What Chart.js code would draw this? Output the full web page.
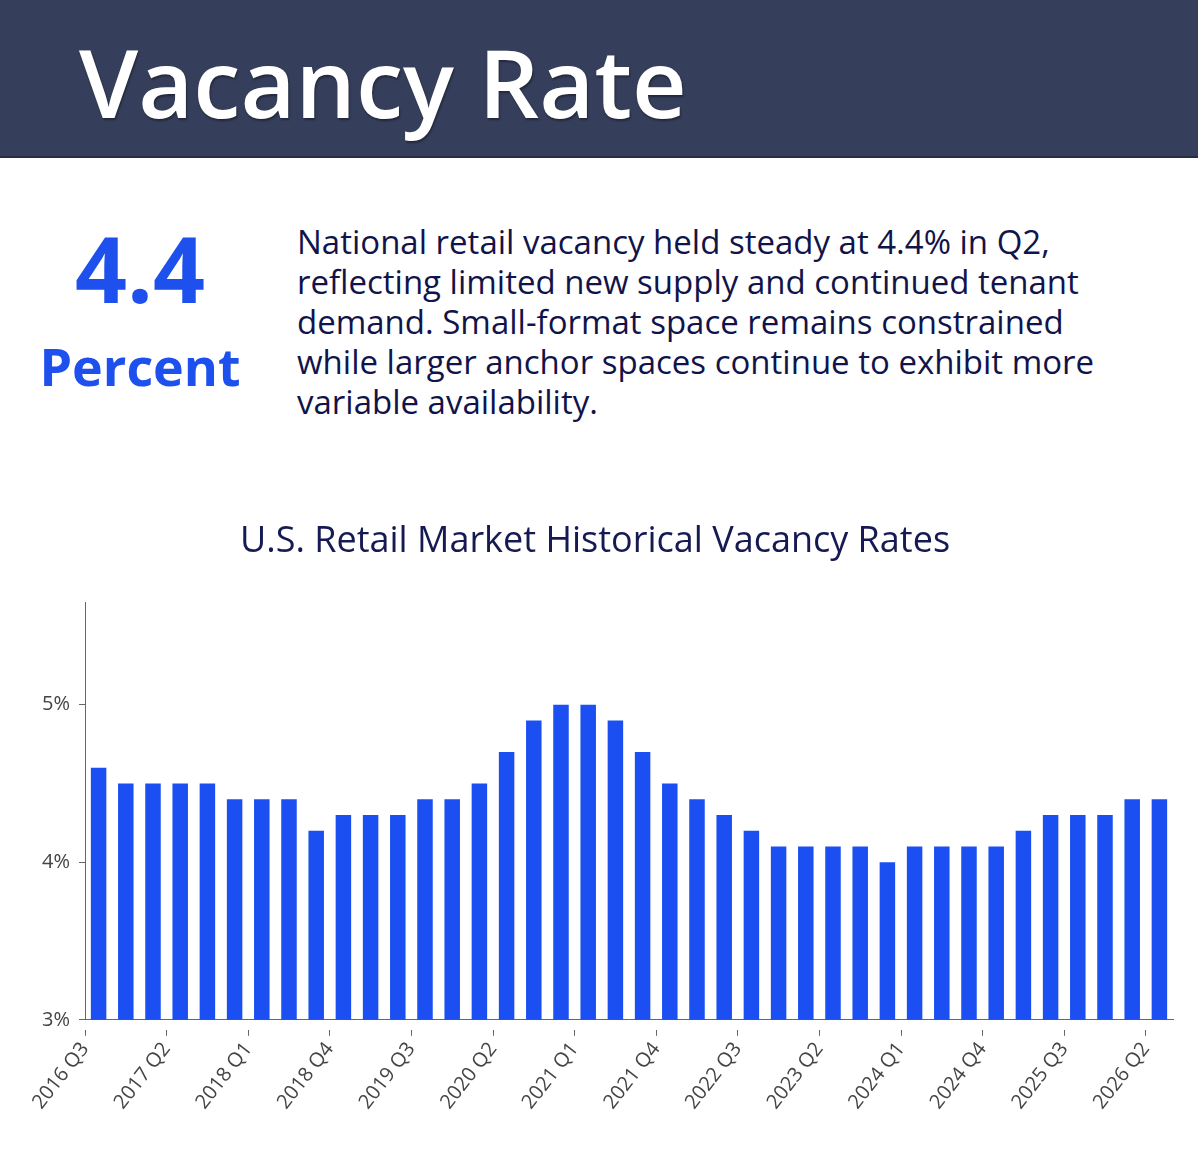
<!DOCTYPE html>
<html>
<head>
<meta charset="utf-8">
<script src="https://cdn.jsdelivr.net/npm/chart.js@4.4.1/dist/chart.umd.min.js"></script>
<style>
  html, body { margin: 0; padding: 0; }
  body { width: 1200px; height: 1174px; position: relative; overflow: hidden; background: #fff; font-family: "Open Sans", sans-serif; }
  .header { position: absolute; left: 0; top: 0; width: 1198px; height: 156px; background: #353e5a; border-bottom: 2px solid #262d44; }
  .header h1 { position: absolute; left: 79px; top: 16px; margin: 0; font-size: 95px; font-weight: 600; line-height: normal; color: #fff; text-shadow: 1px 2px 2px rgba(0,0,0,0.35); }
  .stat { position: absolute; left: 38px; width: 204px; text-align: center; color: #1d50ec; font-weight: 700; line-height: normal; }
  .num { top: 206px; font-size: 91px; }
  .unit { top: 330px; font-size: 52px; }
  .desc { position: absolute; left: 297px; top: 222px; margin: 0; font-size: 33px; line-height: 40px; color: #11144a; }
  .chartbox { position: absolute; left: 0; top: 500px; width: 1200px; height: 674px; }
</style>
</head>
<body>
<div class="header"><h1>Vacancy Rate</h1></div>
<div class="stat num">4.4</div>
<div class="stat unit">Percent</div>
<p class="desc">National retail vacancy held steady at 4.4% in Q2,<br>reflecting limited new supply and continued tenant<br>demand. Small-format space remains constrained<br>while larger anchor spaces continue to exhibit more<br>variable availability.</p>
<div class="chartbox"><canvas id="vacancyChart"></canvas></div>
<script>
const quarters = [
  "2016 Q3", "2016 Q4",
  "2017 Q1", "2017 Q2", "2017 Q3", "2017 Q4",
  "2018 Q1", "2018 Q2", "2018 Q3", "2018 Q4",
  "2019 Q1", "2019 Q2", "2019 Q3", "2019 Q4",
  "2020 Q1", "2020 Q2", "2020 Q3", "2020 Q4",
  "2021 Q1", "2021 Q2", "2021 Q3", "2021 Q4",
  "2022 Q1", "2022 Q2", "2022 Q3", "2022 Q4",
  "2023 Q1", "2023 Q2", "2023 Q3", "2023 Q4",
  "2024 Q1", "2024 Q2", "2024 Q3", "2024 Q4",
  "2025 Q1", "2025 Q2", "2025 Q3", "2025 Q4",
  "2026 Q1", "2026 Q2"
];

// vacancy rate, percent
const vacancy = [
  4.6, 4.5,
  4.5, 4.5, 4.5, 4.4,
  4.4, 4.4, 4.2, 4.3,
  4.3, 4.3, 4.4, 4.4,
  4.5, 4.7, 4.9, 5.0,
  5.0, 4.9, 4.7, 4.5,
  4.4, 4.3, 4.2, 4.1,
  4.1, 4.1, 4.1, 4.0,
  4.1, 4.1, 4.1, 4.1,
  4.2, 4.3, 4.3, 4.3,
  4.4, 4.4
];

const yTicks = [3, 4, 5];
const yMin = 3;
const yMax = 5.65;
const labelEvery = 3;

const axisColor = "#666";
const tickFont = { family: "Open Sans", size: 20 };

new Chart(document.getElementById("vacancyChart"), {
  type: "bar",
  data: {
    labels: quarters,
    datasets: [
      {
        label: "Vacancy rate",
        data: vacancy,
        backgroundColor: "#1b4ff2",
        barPercentage: 0.57,
        categoryPercentage: 1
      }
    ]
  },
  options: {
    responsive: true,
    maintainAspectRatio: false,
    animation: false,
    layout: { padding: { left: 17, right: 27, top: 0, bottom: 58 } },
    plugins: {
      legend: { display: false },
      tooltip: { enabled: false },
      title: {
        display: true,
        text: "U.S. Retail Market Historical Vacancy Rates",
        color: "#161a52",
        font: { family: "Open Sans", size: 36, weight: "normal" },
        padding: { top: 20, bottom: 39 }
      }
    },
    scales: {
      x: {
        offset: true,
        border: { color: axisColor, width: 1 },
        grid: {
          offset: true,
          drawOnChartArea: false,
          tickLength: 16,
          tickColor: ctx => ctx.index % labelEvery === 0 ? axisColor : "rgba(0,0,0,0)",
          tickBorderDash: [0, 10, 6, 40]
        },
        ticks: {
          autoSkip: false,
          minRotation: 52,
          maxRotation: 52,
          labelOffset: -13.6,
          padding: 2,
          color: "#444",
          font: tickFont,
          callback: (v, i) => i % labelEvery === 0 ? quarters[i] : ""
        }
      },
      y: {
        min: yMin,
        max: yMax,
        border: { color: axisColor, width: 1 },
        grid: { drawOnChartArea: false, tickLength: 6, tickColor: axisColor },
        afterBuildTicks: scale => {
          scale.ticks = yTicks.map(v => ({ value: v }));
        },
        afterFit: scale => {
          scale.width = 68;
        },
        ticks: {
          padding: 9,
          color: "#444",
          font: tickFont,
          callback: v => v + "%"
        }
      }
    }
  }
});
</script>
</body>
</html>
